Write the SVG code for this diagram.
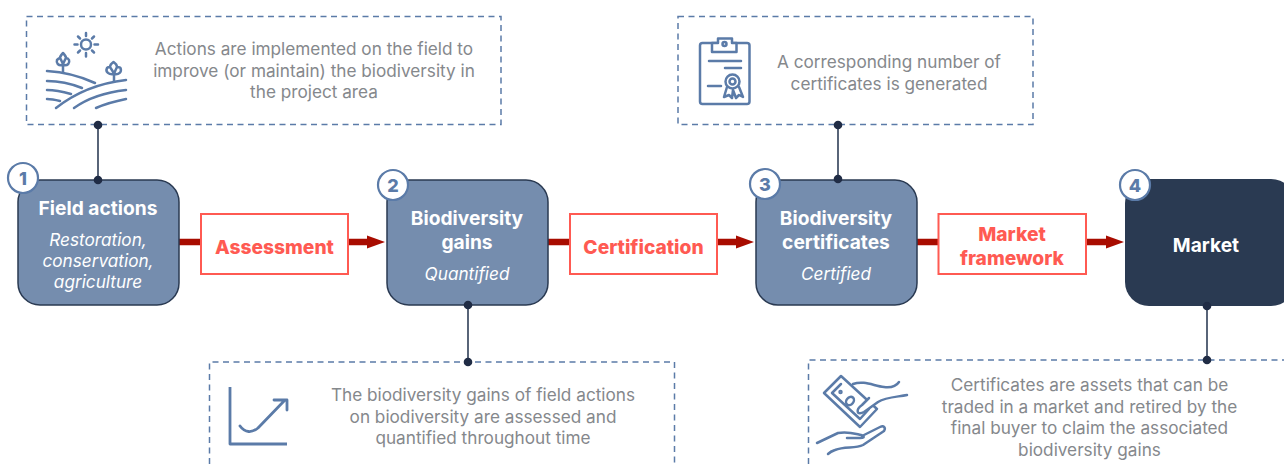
<svg xmlns="http://www.w3.org/2000/svg" width="1284" height="464" viewBox="0 0 1284 464">
<style>
text{font-family:"Inter","Liberation Sans",sans-serif;text-anchor:middle}
.note{fill:none;stroke:#5b7ba8;stroke-width:1.500;stroke-dasharray:6 4.500}
.desc{font-size:17.2px;fill:#85888c}
.node{fill:#758dae;stroke:#2a3a52;stroke-width:1.500}
.title{font-size:19.200px;font-weight:700;fill:#fff}
.sub{font-size:17.200px;font-style:italic;fill:#fff}
.badge{fill:#fff;stroke:#5b7ba8;stroke-width:2.200}
.num{font-size:18px;font-weight:800;fill:#5b7ba8}
.lab{fill:#fff;stroke:#ff5a52;stroke-width:2}
.labt{font-size:19.200px;font-weight:800;fill:#ff5a52}
.ico{fill:none;stroke:#5b7ba8;stroke-width:2.500;stroke-linecap:round;stroke-linejoin:round}
.arrow{stroke:#a80c00;stroke-width:6.500;fill:none;marker-end:url(#ah)}
.link{stroke:#2f3e57;stroke-width:1.600;fill:none}
.dot{fill:#202c45}
</style>
<defs><marker id="ah" markerUnits="userSpaceOnUse" markerWidth="18" markerHeight="14" refX="0" refY="7" orient="auto"><path d="M0 0.500L18 7L0 13.500Z" fill="#a80c00"/></marker></defs>
<g id="connectors">
<path class="arrow" d="M179 242H367"/>
<path class="arrow" d="M548 242H736"/>
<path class="arrow" d="M917 242H1106"/>
<path class="link" d="M98 125V180"/>
<path class="link" d="M838 125V179"/>
<path class="link" d="M468 305V362"/>
<path class="link" d="M1207 306V360"/>
</g>
<g id="note-field">
<rect class="note" x="26.500" y="16.500" width="474.500" height="108"/>
<g class="ico">
<circle cx="86" cy="44.500" r="5"/>
<path d="M86 33V36M86 53V56.500M74.500 44.500H77.500M94.500 44.500H98M78 36.500L80 38.500M92 50.500L94 52.500M78 52.500L80 50.500M92 38.500L94 36.500"/>
<path d="M63 72V65M63 65C58 66 56 63 57 60C58 59 59 58 60 58C60 56 62 54 63 53C64 54 66 56 66 58C67 58 68.500 59 69 60C70 63 68 66 63 65M60 58C61 60 62.500 62 63 65M66 58C65 60 63.500 62 63 65"/>
<path d="M114 81V74M114 74C109 75 105 72 107 68C108 67 109 67 110 67C110 65 112 63 113.500 62C115 63 117 65 117 67C118 67 120 67 120.500 68C122 72 119 75 114 74M110 67C111 69 113 71 114 74M117 67C116 69 115 71 114 74"/>
<path d="M47 71C65 72 82 77 95 83M47 81C60 81 72 84 82 88M47 90C55 90 64 92 71 94M47 99C52 99 56 100 60 101"/>
<path d="M56 108C75 93 100 83 126 80M74 108C88 98 108 92 126 90M96 108C105 104 116 101 126 99"/>
</g>
<text class="desc" x="314" y="55">Actions are implemented on the field to</text>
<text class="desc" x="314" y="77">improve (or maintain) the biodiversity in</text>
<text class="desc" x="314" y="98">the project area</text>
</g>
<g id="note-cert">
<rect class="note" x="678" y="16.500" width="355" height="108"/>
<g class="ico">
<rect x="700" y="43" width="49.500" height="61" rx="2.500"/>
<path d="M712 52V43H718V38.500H732V43H736.500V52Z" fill="#fff"/>
<circle cx="724.500" cy="44" r="2"/>
<path d="M709 61H741M725 68H741M708 86H721"/>
<circle cx="732.500" cy="81.500" r="7"/><circle cx="732.500" cy="81.500" r="3"/>
<path d="M727 87L724 97L729 95L732 98L733 90L736 98L739 95L743 97L739 87"/>
</g>
<text class="desc" x="889" y="67.500">A corresponding number of</text>
<text class="desc" x="889" y="90">certificates is generated</text>
</g>
<g id="note-gains">
<path class="note" d="M209.500 464V362H674.500V464"/>
<g class="ico" style="stroke-width:2.800">
<path d="M230 387V444H287" stroke-linecap="butt"/>
<path d="M240 426C245 433 252 433 258 428L285 400M274 400H287V410"/>
</g>
<text class="desc" x="483" y="401">The biodiversity gains of field actions</text>
<text class="desc" x="483" y="423">on biodiversity are assessed and</text>
<text class="desc" x="483" y="444">quantified throughout time</text>
</g>
<g id="note-market">
<path class="note" d="M808.500 464V360H1284"/>
<g class="ico">
<path d="M841 376L824 393L860 427L877 409Z"/>
<path d="M841 384L832 393L860 419L869 409"/>
<ellipse cx="850" cy="401" rx="3.500" ry="4.500" transform="rotate(40 850 401)"/>
<circle cx="840.500" cy="392" r="1"/>
<path d="M853 384C864 380 874 386 884 387C892 388 897 385 899 382"/>
<path d="M869 398L862 405C855 410 857 416 864 412L878 402C886 397 897 397 907 395" fill="#fff"/>
<path d="M817 443L838 433C848 431 856 434 861 435C866 437 863 438 860 438H847M862 436L880 427C884 425 886 428 884 431L863 445C855 449 845 446 835 450C832 451 830 452 828 454"/>
</g>
<text class="desc" x="1089.500" y="391">Certificates are assets that can be</text>
<text class="desc" x="1089.500" y="413">traded in a market and retired by the</text>
<text class="desc" x="1089.500" y="434">final buyer to claim the associated</text>
<text class="desc" x="1089.500" y="456">biodiversity gains</text>
</g>
<g id="node-1">
<rect class="node" x="18" y="180" width="161" height="125" rx="22"/>
<circle class="badge" cx="23" cy="178" r="15"/>
<text class="num" x="23" y="185">1</text>
<text class="title" x="98" y="215">Field actions</text>
<text class="sub" x="98" y="246">Restoration,</text>
<text class="sub" x="98" y="267">conservation,</text>
<text class="sub" x="98" y="288">agriculture</text>
</g>
<g id="node-2">
<rect class="node" x="387" y="180" width="161" height="125" rx="22"/>
<circle class="badge" cx="393" cy="185" r="15"/>
<text class="num" x="393" y="192">2</text>
<text class="title" x="467" y="225">Biodiversity</text>
<text class="title" x="467" y="249">gains</text>
<text class="sub" x="467" y="280">Quantified</text>
</g>
<g id="node-3">
<rect class="node" x="756" y="180" width="161" height="125" rx="22"/>
<circle class="badge" cx="765" cy="184" r="15"/>
<text class="num" x="765" y="191">3</text>
<text class="title" x="836" y="225">Biodiversity</text>
<text class="title" x="836" y="249">certificates</text>
<text class="sub" x="836" y="280">Certified</text>
</g>
<g id="node-4">
<rect x="1125" y="179" width="170" height="127" rx="24" fill="#2a3a52"/>
<circle class="badge" cx="1135" cy="185" r="15"/>
<text class="num" x="1135" y="192">4</text>
<text class="title" x="1206" y="252">Market</text>
</g>
<g id="label-assessment">
<rect class="lab" x="201" y="214" width="147" height="60"/>
<text class="labt" x="274.500" y="254">Assessment</text>
</g>
<g id="label-certification">
<rect class="lab" x="570" y="214" width="147" height="60"/>
<text class="labt" x="643.500" y="254">Certification</text>
</g>
<g id="label-framework">
<rect class="lab" x="938.500" y="214" width="147.500" height="60"/>
<text class="labt" x="1012" y="241">Market</text>
<text class="labt" x="1012" y="265">framework</text>
</g>
<g id="dots">
<circle class="dot" cx="98" cy="125" r="4.300"/><circle class="dot" cx="98" cy="180" r="4.300"/>
<circle class="dot" cx="838" cy="125" r="4.300"/><circle class="dot" cx="838" cy="179" r="4.300"/>
<circle class="dot" cx="468" cy="305" r="4.300"/><circle class="dot" cx="468" cy="362" r="4.300"/>
<circle class="dot" cx="1207" cy="306" r="4.300"/><circle class="dot" cx="1207" cy="360" r="4.300"/>
</g>
</svg>
